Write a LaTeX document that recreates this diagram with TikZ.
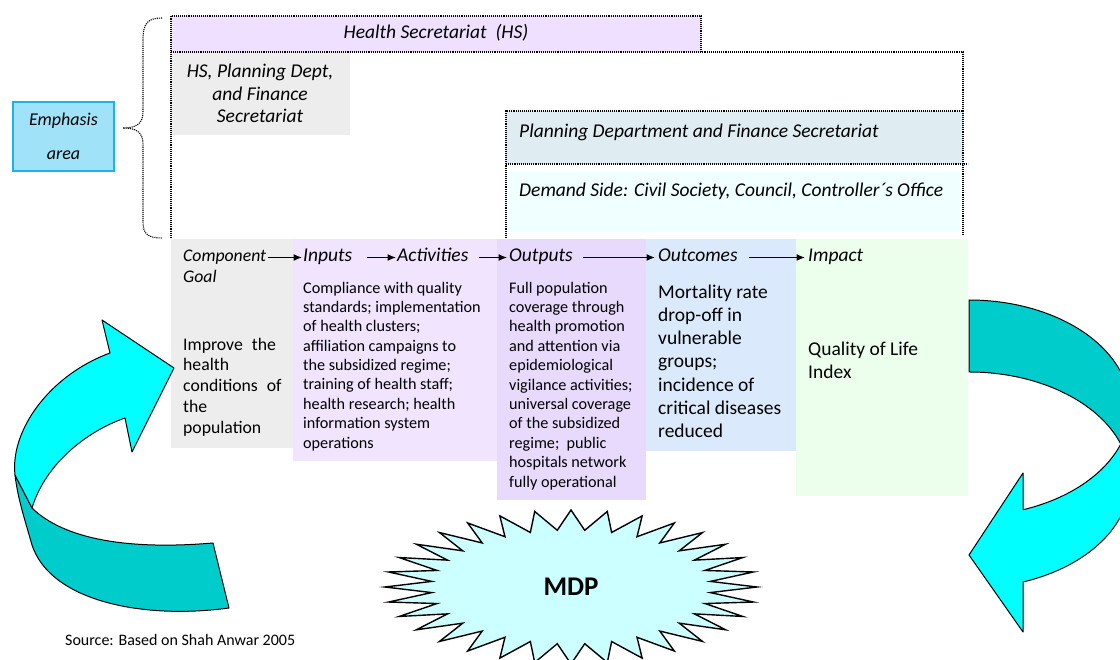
\documentclass[tikz,border=0pt]{standalone}
\usepackage{fontspec}
\setmainfont{Carlito}
\usetikzlibrary{arrows.meta}

\begin{document}
\begin{tikzpicture}[x=1pt, y=-1pt]

	% Colours
	\definecolor{emphfill}{RGB}{160,226,248}
	\definecolor{emphdraw}{RGB}{30,178,230}
	\definecolor{hsfill}{RGB}{239,224,255}
	\definecolor{greyfill}{RGB}{237,237,237}
	\definecolor{planfill}{RGB}{223,237,243}
	\definecolor{demandfill}{RGB}{240,255,255}
	\definecolor{inputfill}{RGB}{240,228,255}
	\definecolor{outputfill}{RGB}{232,218,252}
	\definecolor{outcomefill}{RGB}{218,234,252}
	\definecolor{impactfill}{RGB}{236,255,236}
	\definecolor{ribboncyan}{RGB}{0,255,255}
	\definecolor{ribbonteal}{RGB}{0,204,204}
	\definecolor{starfill}{RGB}{204,255,255}

	% Styles (multi-line nodes sit on the baseline of their last line)
	\tikzstyle{frameline}=[densely dotted, line width=1.1pt]
	\tikzstyle{toptext}=[anchor=base west, inner sep=0pt, font=\fontsize{19.5}{22.5}\selectfont\itshape]
	\tikzstyle{headtext}=[anchor=base west, inner sep=0pt, text height=13pt, text depth=4pt,
	                      font=\fontsize{19.5}{23}\selectfont\itshape]
	\tikzstyle{bodytext}=[anchor=base west, inner sep=0pt, align=left]
	\tikzstyle{flowarrow}=[-{Latex[length=8.5pt, width=7pt]}, line width=1.2pt]
	\tikzstyle{ribbonfront}=[fill=ribboncyan, draw=black, line width=1pt, line join=round]
	\tikzstyle{ribbonback}=[fill=ribbonteal, draw=black, line width=1pt, line join=round]

	\useasboundingbox (0,0) rectangle (1120,660);
	\clip (0,0) rectangle (1120,660);

	%== Emphasis area ==========================================================
	\node[draw=emphdraw, fill=emphfill, line width=1.5pt, minimum width=101pt, minimum height=69pt,
	      align=center, font=\fontsize{18}{34}\selectfont\itshape] (emph) at (63.5,136.5) {Emphasis\\area};

	\draw[frameline] (162,18) .. controls (147,18) and (143,24) .. (143,40) -- (143,112)
		.. controls (143,124) and (136,128) .. (123,128)
		.. controls (136,128) and (143,132) .. (143,144) -- (143,222)
		.. controls (143,234) and (148,238) .. (162,238);

	% Boxes
	\fill[hsfill] (171,16) rectangle (701,52);
	\fill[greyfill] (171,52) rectangle (350,135);
	\fill[planfill] (506,111) rectangle (963,164);
	\fill[demandfill] (506,172) rectangle (960,232);

	\draw[frameline] (171,238) -- (171,16) -- (701,16) -- (701,52);
	\draw[frameline] (171,52) -- (963,52) -- (963,235);
	\draw[frameline] (506,238) -- (506,111) -- (963,111);
	\draw[frameline] (506,164) -- (968,164);

	\node[toptext, anchor=base] (hs) at (436,39) {Health Secretariat\ \ (HS)};
	\node[toptext, anchor=base, align=center] (hsplan) at (260,123) {HS, Planning Dept,\\and Finance\\Secretariat};
	\node[toptext] (plan) at (519,138) {Planning Department and Finance Secretariat};
	\node[toptext] (demand) at (519,197) {Demand Side: Civil Society, Council, Controller´s Office};

	%== Results chain ==========================================================
	\fill[greyfill] (171,239) rectangle (293,448);
	\fill[inputfill] (293,239) rectangle (497,461);
	\fill[outputfill] (497,239) rectangle (646,500);
	\fill[outcomefill] (646,239) rectangle (796,451);
	\fill[impactfill] (796,239) rectangle (968,496);

	\node[bodytext, font=\fontsize{17.7}{21}\selectfont\itshape] (goalhd) at (183,283) {Component\\Goal};
	\node[headtext] (inputshd) at (303,262) {Inputs};
	\node[headtext] (activhd) at (397,262) {Activities};
	\node[headtext] (outputshd) at (509,262) {Outputs};
	\node[headtext] (outcomeshd) at (658,262) {Outcomes};
	\node[headtext] (impacthd) at (808,262) {Impact};

	\draw[flowarrow, shorten <=2pt, shorten >=1pt] (goalhd.east |- inputshd.west) -- (inputshd.west);
	\draw[flowarrow, shorten <=14pt, shorten >=1pt] (inputshd) -- (activhd);
	\draw[flowarrow, shorten <=10pt, shorten >=2pt] (activhd) -- (outputshd);
	\draw[flowarrow, shorten <=10pt, shorten >=3pt] (outputshd) -- (outcomeshd);
	\draw[flowarrow, shorten <=11pt, shorten >=3pt] (outcomeshd) -- (impacthd);

	\node[bodytext, font=\fontsize{17.7}{21}\selectfont] (goaltxt) at (183,434)
		{Improve\hspace{5pt} the\\health\\conditions\hspace{5pt} of\\the\\population};
	\node[bodytext, font=\fontsize{16.2}{19.4}\selectfont] (inputstxt) at (303,448.2)
		{Compliance with quality\\standards; implementation\\of health clusters;\\affiliation campaigns to\\the subsidized regime;\\training of health staff;\\health research; health\\information system\\operations};
	\node[bodytext, font=\fontsize{16.2}{19.4}\selectfont] (outputstxt) at (509,487)
		{Full population\\coverage through\\health promotion\\and attention via\\epidemiological\\vigilance activities;\\universal coverage\\of the subsidized\\regime;\ \ public\\hospitals network\\fully operational};
	\node[bodytext, font=\fontsize{19.5}{23.3}\selectfont] (outcomestxt) at (658,437.8)
		{Mortality rate\\drop-off in\\vulnerable\\groups;\\incidence of\\critical diseases\\reduced};
	\node[bodytext, font=\fontsize{19.5}{23}\selectfont] (impacttxt) at (808,379) {Quality of Life\\Index};

	%== Curved arrows ==========================================================
	% left ribbon
	\draw[ribbonback] (15,475) -- (32,508) .. controls (65,540) and (130,550) .. (213,543)
		-- (229,608) .. controls (140,620) and (50,600) .. (32,545)
		.. controls (25,520) and (18,500) .. (15,475) -- cycle;
	\draw[ribbonfront] (110,353) -- (102,320) -- (174,368) -- (132,452) -- (125,418)
		.. controls (85,432) and (45,465) .. (32,508) -- (15,475)
		.. controls (10,430) and (50,375) .. (110,353) -- cycle;

	% right ribbon
	\draw[ribbonback] (969,300) arc[start angle=-90, end angle=19.47, x radius=161, y radius=108]
		arc[start angle=-19.47, end angle=-90, x radius=161, y radius=108] -- cycle;
	\draw[ribbonfront] (1120.8,444) arc[start angle=19.47, end angle=70.4, x radius=161, y radius=108]
		-- (1023,473) -- (969,555) -- (1023,632) -- (1023,582)
		arc[start angle=70.4, end angle=-19.47, x radius=161, y radius=108] -- cycle;

	%== MDP ====================================================================
	\draw[fill=starfill, line width=1.4pt, line join=miter] (757,587)
		\foreach \i [evaluate=\i as \rx using {mod(\i,2)==0 ? 186 : 140},
		             evaluate=\i as \ry using {mod(\i,2)==0 ? 77 : 57}] in {1,...,63}
		{ -- ({571+\rx*cos(\i*5.625)}, {587+\ry*sin(\i*5.625)}) } -- cycle;
	\node[font=\fontsize{27}{30}\selectfont\bfseries] (mdp) at (571,587) {MDP};

	\node[anchor=base west, inner sep=0pt, font=\fontsize{16}{19}\selectfont] (source) at (65,645)
		{Source: Based on Shah Anwar 2005};

\end{tikzpicture}
\end{document}
